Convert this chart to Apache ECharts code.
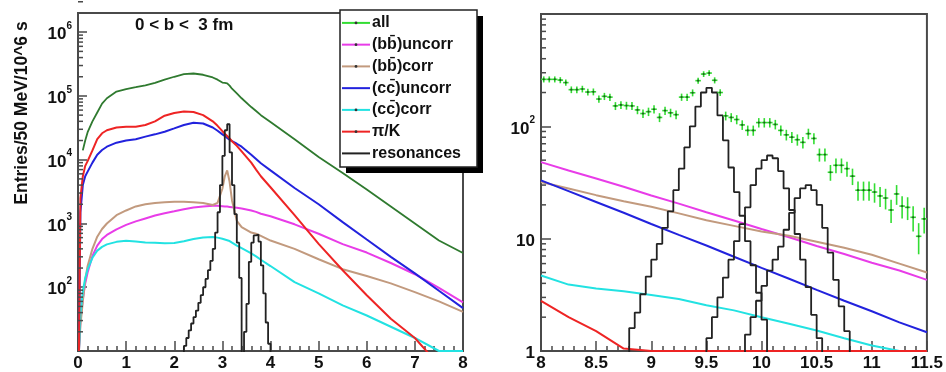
<!DOCTYPE html>
<html><head><meta charset="utf-8">
<script src="https://cdn.jsdelivr.net/npm/echarts@6.0.0/dist/echarts.min.js"></script>
<style>html,body{margin:0;padding:0;background:#fff}#c{width:946px;height:372px}</style>
</head><body><div id="c"></div>
<script>
// ---------------- DATA ----------------
// Left panel (0-8 GeV), shared x sample points
const L_X = [0.02,0.05,0.1,0.15,0.2,0.3,0.4,0.5,0.6,0.8,1.0,1.2,1.4,1.6,1.8,2.0,2.2,2.4,2.6,2.8,2.9,3.0,3.05,3.1,3.15,3.2,3.3,3.4,3.6,3.7,3.8,4.0,4.5,5.0,5.5,6.0,6.5,7.0,7.5,8.0];
const L_ALL = [null,null,1.4e4,2.0e4,2.7e4,4.0e4,5.5e4,7.6e4,9.2e4,1.17e5,1.28e5,1.37e5,1.47e5,1.6e5,1.8e5,2.0e5,2.2e5,2.25e5,2.15e5,1.95e5,1.8e5,1.62e5,1.6e5,1.58e5,1.45e5,1.3e5,1.1e5,9.2e4,6.7e4,5.8e4,5.0e4,3.9e4,2.1e4,1.1e4,6.2e3,3.4e3,1.85e3,1.0e3,540,345];
const L_BB_UNCORR = [10,30,65,115,170,310,450,570,660,810,950,1080,1200,1330,1450,1550,1670,1780,1850,1900,1900,1870,1850,1840,1820,1800,1760,1720,1600,1520,1420,1300,970,690,475,350,240,160,98,58];
const L_BB_CORR = [10,25,60,130,215,400,620,820,1000,1350,1600,1850,2000,2100,2150,2200,2200,2150,2100,1950,2100,3500,5500,6800,4500,2300,1100,880,720,690,640,540,400,275,192,150,115,84,60,41];
const L_CC_UNCORR = [10,1.5e3,4.0e3,5.5e3,6.5e3,9.0e3,1.2e4,1.42e4,1.6e4,1.85e4,2.0e4,2.1e4,2.3e4,2.5e4,2.75e4,3.1e4,3.5e4,3.8e4,3.7e4,3.2e4,2.85e4,2.5e4,2.35e4,2.2e4,2.05e4,1.95e4,1.78e4,1.6e4,1.2e4,1.03e4,8.8e3,6.8e3,3.6e3,2.0e3,1.05e3,560,300,165,88,47];
const L_CC_CORR = [10,37,85,140,190,290,375,430,470,515,535,520,505,500,490,495,525,570,605,615,600,575,560,545,530,500,450,410,340,305,270,215,120,80,52,36,24,16,10,10];
const L_PIK = [10,2.5e3,5.5e3,8.0e3,9.5e3,1.4e4,2.1e4,2.6e4,2.9e4,3.2e4,3.3e4,3.3e4,3.5e4,4.0e4,4.9e4,5.4e4,5.7e4,5.6e4,5.0e4,4.0e4,3.4e4,2.8e4,2.55e4,2.35e4,2.15e4,1.95e4,1.65e4,1.35e4,9.0e3,7.0e3,5.5e3,3.7e3,1.35e3,480,185,75,32,16,6,2.7];
// resonances histogram (50 MeV bins), first bin left edge
const BIN = 0.05;
const L_RES_START = 2.15;
const L_RES = [1,12,16,21,27,34,43,57,75,100,135,185,260,400,720,1500,4000,1.15e4,2.9e4,3.6e4,1.3e4,4000,1400,500,140,1,20,55,250,500,650,670,520,220,80,28,13,1];

// Right panel (8-11.5 GeV)
const R_X = [8,8.25,8.5,8.75,9,9.25,9.5,9.75,10,10.25,10.5,10.75,11,11.25,11.5];
const R_BB_UNCORR = [48,40.5,34.3,29,24.2,20.5,17.2,14.5,12.2,10.3,8.6,7.3,6.1,5.2,4.3];
const R_BB_CORR = [32,28,24.4,21.5,19.2,16.8,14.6,13.0,11.6,10.6,9.4,8.3,7.2,6.0,5.0];
const R_CC_UNCORR = [33,26.5,21.2,17,13.5,10.8,8.7,6.9,5.5,4.4,3.5,2.8,2.26,1.8,1.47];
const R_CC_CORR = [4.7,3.9,3.6,3.4,3.15,2.9,2.55,2.3,2.0,1.75,1.52,1.3,1.12,1,1];
const R_PIK = [2.8,2.0,1.5,1.05,1,1,1,1,1,1,1,1,1,1,1];
const R_Y1S_START = 8.75;
const R_Y1S = [0.3,1.6,2.2,3.2,4.6,6.5,9.0,12.5,17.5,27,42,65,100,150,200,220,200,125,75,43,26,16,9.5,5.8,3.3,1.9,0.3];
const R_Y2S_START = 9.45;
const R_Y2S = [0.3,1.3,2.0,3.0,4.5,6.5,9.5,13.5,19,30,42,50,55,52,40,28,18,11,6.5,3.7,2.1,1.3,0.3];
const R_Y3S_START = 9.80;
const R_Y3S = [0.3,1.4,2.0,2.8,3.8,5.2,6.5,8.5,12,17,23,28,30,27,20,12.5,7.5,4.3,2.5,1.5,0.3];
// "all" data points, first bin centre
const R_ALL_START = 8.025;
const R_ALL = [262,262,262,258,245,212,212,215,202,203,
  175,185,182,152,155,153,152,140,130,135,
  142,120,138,132,127,182,182,199,255,292,
  298,257,200,124,120,115,103,92,92,108,
  108,108,104,92,84,80,76,72,86,78,
  56,56,39,45,45,42,36,27,27,27,
  26,24,23,18,25,19.5,19,15.5,10.5,15];

const LEGEND_LABELS = ['all','(bb\u0304)uncorr','(bb\u0304)corr','(cc\u0304)uncorr','(cc\u0304)corr','\u03c0/K','resonances'];
const TITLE = '0 < b <  3 fm';
const Y_TITLE = 'Entries/50 MeV/10^6 s';

// ---------------- STYLE ----------------
const F = 'Liberation Sans, Arial, Helvetica, sans-serif';
const AX = '#4a4a4a';
const C = {all:'#2f7a2f', allR:'#33dd33', bbu:'#e83ce8', bbc:'#c29a7e', ccu:'#2222dd', ccc:'#22e2e2', pik:'#ee2424', res:'#222222'};

const pairs = (xs, ys) => xs.map((x,i)=>[x, ys[i]]).filter(p => p[1] != null);
const hist = (start, vals) => vals.map((v,i)=>[+(start + i*BIN).toFixed(4), v]);

function line(name, data, color, gi, extra) {
  return Object.assign({
    name, type:'line', data, xAxisIndex:gi, yAxisIndex:gi,
    showSymbol:false, symbol:'none', clip:true, silent:true,
    lineStyle:{color, width:2}, itemStyle:{color}
  }, extra || {});
}

function minorTicks(gi, x0, decadesFrom, decadesTo) {
  const d = [];
  for (let n = decadesFrom; n <= decadesTo; n++)
    for (let k = 2; k <= 9; k++) d.push([x0, k*Math.pow(10,n)]);
  return {
    type:'custom', xAxisIndex:gi, yAxisIndex:gi, silent:true, z:5, data:d,
    renderItem: (p, api) => {
      const c = api.coord([api.value(0), api.value(1)]);
      return {type:'line', shape:{x1:c[0], y1:c[1], x2:c[0]+5, y2:c[1]}, style:{stroke:AX, lineWidth:1.5}};
    }
  };
}

function yLabel(isRight) {
  return {
    margin: 6,
    formatter: v => {
      const n = Math.round(Math.log10(v));
      if (Math.abs(v/Math.pow(10,n) - 1) > 1e-6) return '';
      if (!isRight && n <= 1) return '';
      if (isRight && n >= 3) return '';
      if (n === 0) return '{b|1}';
      if (n === 1) return '{b|10}';
      return '{b|10}{s|' + n + '}';
    },
    rich: {
      b:{fontSize:17, fontWeight:'bold', fontFamily:F, color:'#111', lineHeight:22, verticalAlign:'bottom'},
      s:{fontSize:10, fontWeight:'bold', fontFamily:F, color:'#111', lineHeight:12, verticalAlign:'top'}
    }
  };
}

const xLab = {color:'#111', fontSize:17, fontWeight:'bold', fontFamily:F, margin:4};
const axLine = {show:true, lineStyle:{color:AX, width:2}};

const legendGraphics = [];
const LX0 = 340, LY0 = 10, LW = 137, LH = 157;
legendGraphics.push({type:'rect', z:100, shape:{x:LX0+6, y:LY0+6, width:LW, height:LH}, style:{fill:'#000'}});
legendGraphics.push({type:'rect', z:101, shape:{x:LX0, y:LY0, width:LW, height:LH}, style:{fill:'#fff', stroke:'#222', lineWidth:1.5}});
const legColors = [C.allR, C.bbu, C.bbc, C.ccu, C.ccc, C.pik, C.res];
const legDot = [true, true, true, false, true, true, false];
LEGEND_LABELS.forEach((t, i) => {
  const y = 22.9 + 21.75*i;
  legendGraphics.push({type:'line', z:102, shape:{x1:LX0+2, y1:y, x2:LX0+30, y2:y}, style:{stroke:legColors[i], lineWidth:2}});
  if (legDot[i]) legendGraphics.push({type:'circle', z:103, shape:{cx:LX0+16, cy:y, r:1.4}, style:{fill:'#333'}});
  legendGraphics.push({type:'text', z:103, x:LX0+32, y:y, style:{text:t, font:'bold 16px ' + F, fill:'#111', verticalAlign:'middle', align:'left'}});
});
legendGraphics.push({type:'text', z:50, x:22, y:113, rotation:Math.PI/2,
  style:{text:Y_TITLE, font:'bold 17.5px ' + F, fill:'#111', align:'center', verticalAlign:'middle'}});

const chart = echarts.init(document.getElementById('c'), null, {renderer:'canvas'});
chart.setOption({
  animation:false,
  backgroundColor:'#fff',
  title:{text:TITLE, left:135, top:17, padding:0, textStyle:{fontSize:17, fontWeight:'bold', fontFamily:F, color:'#111'}},
  grid:[
    {left:78, top:13, width:385, height:339, show:true, borderColor:AX, borderWidth:2, backgroundColor:'transparent'},
    {left:541, top:14, width:386, height:338, show:true, borderColor:AX, borderWidth:2, backgroundColor:'transparent'}
  ],
  xAxis:[
    {type:'value', gridIndex:0, min:0, max:8, interval:1, axisLine:axLine,
     axisTick:{inside:true, length:10, lineStyle:{color:AX, width:1.5}},
     minorTick:{show:true, splitNumber:5, length:5, lineStyle:{color:AX, width:1.5}},
     splitLine:{show:false}, minorSplitLine:{show:false}, axisLabel:xLab},
    {type:'value', gridIndex:1, min:8, max:11.5, interval:0.5, axisLine:axLine,
     axisTick:{inside:true, length:10, lineStyle:{color:AX, width:1.5}},
     minorTick:{show:true, splitNumber:5, length:5, lineStyle:{color:AX, width:1.5}},
     splitLine:{show:false}, minorSplitLine:{show:false}, axisLabel:xLab}
  ],
  yAxis:[
    {type:'log', logBase:10, gridIndex:0, min:10, max:2e6, axisLine:axLine,
     axisTick:{inside:true, length:9, lineStyle:{color:AX, width:1.5}},
     splitLine:{show:false}, axisLabel:yLabel(false)},
    {type:'log', logBase:10, gridIndex:1, min:1, max:1000, axisLine:axLine,
     axisTick:{inside:true, length:10, lineStyle:{color:AX, width:1.5}},
     splitLine:{show:false}, axisLabel:yLabel(true)}
  ],
  graphic: legendGraphics,
  series:[
    minorTicks(0, 0, 1, 6),
    minorTicks(1, 8, 0, 2),
    line('all', pairs(L_X, L_ALL), C.all, 0, {lineStyle:{color:C.all, width:1.8}}),
    line('(bb)uncorr', pairs(L_X, L_BB_UNCORR), C.bbu, 0),
    line('(bb)corr', pairs(L_X, L_BB_CORR), C.bbc, 0),
    line('(cc)uncorr', pairs(L_X, L_CC_UNCORR), C.ccu, 0),
    line('(cc)corr', pairs(L_X, L_CC_CORR), C.ccc, 0),
    line('pi/K', pairs(L_X, L_PIK), C.pik, 0),
    line('resonances', hist(L_RES_START, L_RES), C.res, 0, {step:'end', lineStyle:{color:C.res, width:1.8}}),

    line('(bb)uncorr R', pairs(R_X, R_BB_UNCORR), C.bbu, 1),
    line('(bb)corr R', pairs(R_X, R_BB_CORR), C.bbc, 1),
    line('(cc)uncorr R', pairs(R_X, R_CC_UNCORR), C.ccu, 1),
    line('(cc)corr R', pairs(R_X, R_CC_CORR), C.ccc, 1),
    line('pi/K R', pairs(R_X, R_PIK), C.pik, 1),
    line('Y1S', hist(R_Y1S_START, R_Y1S), C.res, 1, {step:'end', lineStyle:{color:C.res, width:1.8}}),
    line('Y2S', hist(R_Y2S_START, R_Y2S), C.res, 1, {step:'end', lineStyle:{color:C.res, width:1.8}}),
    line('Y3S', hist(R_Y3S_START, R_Y3S), C.res, 1, {step:'end', lineStyle:{color:C.res, width:1.8}}),
    {
      name:'all R', type:'custom', xAxisIndex:1, yAxisIndex:1, silent:true, z:6,
      data: R_ALL.map((v,i)=>[+(R_ALL_START + i*BIN).toFixed(4), v]),
      renderItem: (p, api) => {
        const x = api.value(0), v = api.value(1), e = Math.sqrt(v);
        const c = api.coord([x, v]);
        const t = api.coord([x, v + e]);
        const b = api.coord([x, Math.max(v - e, 0.5)]);
        const l = api.coord([x - BIN/2, v]);
        const r = api.coord([x + BIN/2, v]);
        return {type:'group', children:[
          {type:'line', shape:{x1:c[0], y1:t[1], x2:c[0], y2:b[1]}, style:{stroke:C.allR, lineWidth:1.6}},
          {type:'line', shape:{x1:l[0], y1:c[1], x2:r[0], y2:c[1]}, style:{stroke:C.allR, lineWidth:1.6}},
          {type:'circle', shape:{cx:c[0], cy:c[1], r:1.1}, style:{fill:'#1e5e1e'}}
        ]};
      }
    }
  ]
});
</script>
</body></html>
